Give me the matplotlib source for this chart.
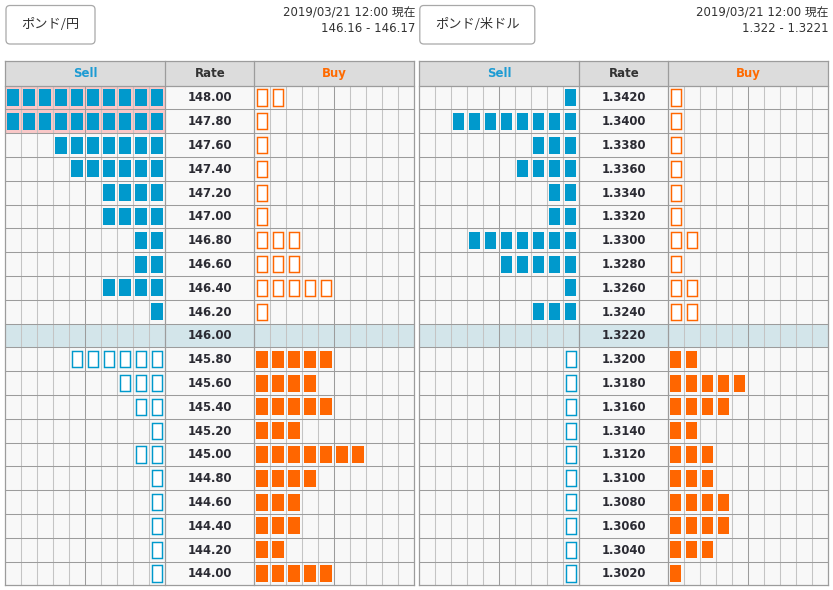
import matplotlib
matplotlib.use("Agg")
import matplotlib.pyplot as plt
from matplotlib.patches import Rectangle, FancyBboxPatch

plt.rcParams['font.family'] = ['DejaVu Sans', 'Noto Sans CJK JP']

# ---- data ----
TIMESTAMP = "2019/03/21 12:00 現在"

GBPJPY_NAME = "ポンド/円"
GBPJPY_QUOTE = "146.16 - 146.17"
GBPJPY_CURRENT = "146.00"
GBPJPY_RATES = ["148.00", "147.80", "147.60", "147.40", "147.20", "147.00", "146.80",
                "146.60", "146.40", "146.20", "146.00", "145.80", "145.60", "145.40",
                "145.20", "145.00", "144.80", "144.60", "144.40", "144.20", "144.00"]
GBPJPY_SELL = [10, 10, 7, 6, 4, 4, 2, 2, 4, 1, 0, 6, 3, 2, 1, 2, 1, 1, 1, 1, 1]
GBPJPY_BUY = [2, 1, 1, 1, 1, 1, 3, 3, 5, 1, 0, 5, 4, 5, 3, 7, 4, 3, 3, 2, 5]

GBPUSD_NAME = "ポンド/米ドル"
GBPUSD_QUOTE = "1.322 - 1.3221"
GBPUSD_CURRENT = "1.3220"
GBPUSD_RATES = ["1.3420", "1.3400", "1.3380", "1.3360", "1.3340", "1.3320", "1.3300",
                "1.3280", "1.3260", "1.3240", "1.3220", "1.3200", "1.3180", "1.3160",
                "1.3140", "1.3120", "1.3100", "1.3080", "1.3060", "1.3040", "1.3020"]
GBPUSD_SELL = [1, 8, 3, 4, 2, 2, 7, 5, 1, 3, 0, 1, 1, 1, 1, 1, 1, 1, 1, 1, 1]
GBPUSD_BUY = [1, 1, 1, 1, 1, 1, 2, 1, 2, 2, 0, 2, 5, 4, 2, 3, 3, 4, 4, 3, 1]

# ---- style ----
BLUE = "#0099cc"
ORANGE = "#ff6600"
SELL_TXT = "#1d9bd3"
BUY_TXT = "#ff6a00"
HEAD_BG = "#dcdcdc"
CELL_BG = "#f8f8f8"
CUR_BG = "#d3e5ea"
PINK = "#f9c8c8"
MINOR = "#c4c4c4"
MAJOR = "#9c9c9c"

NCELL = 10
CW = 16.0        # cell width px
RATE_W = 89.0    # rate column width px
TOP = 61.0       # header top
HEAD_H = 24.5
ROW_H = 23.8


def draw_panel(ax, x0, name, btn_w, quote, rates, sell, buy, current):
    n = len(rates)
    cur = rates.index(current)
    rate_x = x0 + NCELL * CW
    buy_x = rate_x + RATE_W
    right = buy_x + NCELL * CW
    y0 = TOP + HEAD_H
    bottom = y0 + n * ROW_H

    # button + timestamp
    ax.add_patch(FancyBboxPatch((x0 + 0.5, 5.5), btn_w, 38.5,
                                boxstyle="round,pad=0,rounding_size=4",
                                fc="white", ec="#a8a8a8", lw=0.9, zorder=3))
    ax.text(x0 + 0.5 + btn_w / 2, 25, name, ha="center", va="center",
            fontsize=9.5, color="#333333",
            family=['Noto Sans CJK JP', 'DejaVu Sans'], zorder=4)
    ax.text(right + 0.5, 13, TIMESTAMP, ha="right", va="center", fontsize=8.5, color="#333333")
    ax.text(right + 0.5, 28.5, quote, ha="right", va="center", fontsize=8.5, color="#333333")

    # header
    ax.add_patch(Rectangle((x0, TOP), right - x0, HEAD_H, fc=HEAD_BG, ec="none", zorder=0))
    hy = TOP + HEAD_H / 2
    ax.text(x0 + NCELL * CW / 2, hy, "Sell", ha="center", va="center",
            fontsize=8.5, fontweight="bold", color=SELL_TXT)
    ax.text(rate_x + RATE_W / 2, hy, "Rate", ha="center", va="center",
            fontsize=8.5, fontweight="bold", color="#333333")
    ax.text(buy_x + NCELL * CW / 2, hy, "Buy", ha="center", va="center",
            fontsize=8.5, fontweight="bold", color=BUY_TXT)

    for i in range(n):
        ry = y0 + i * ROW_H
        bg = CUR_BG if i == cur else CELL_BG
        ax.add_patch(Rectangle((x0, ry), right - x0, ROW_H, fc=bg, ec="none", zorder=0))
        if sell[i] >= NCELL:
            ax.add_patch(Rectangle((x0, ry), NCELL * CW, ROW_H, fc=PINK, ec="none", zorder=0.5))
        ax.text(rate_x + RATE_W / 2, ry + ROW_H / 2 + 0.5, rates[i], ha="center", va="center",
                fontsize=8.4, fontweight="bold", color="#2b2b33", zorder=3)

        # sell boxes fill from the right edge of the sell column
        for k in range(sell[i]):
            cx = x0 + (NCELL - 1 - k) * CW
            if i < cur:
                ax.add_patch(Rectangle((cx + 2, ry + 3.4), 11.2, 17, fc=BLUE, ec="none", zorder=2))
            else:
                ax.add_patch(Rectangle((cx + 2.4, ry + 3.8), 10.4, 16.2, fc="white",
                                       ec=BLUE, lw=1.05, zorder=2))
        # buy boxes fill from the left edge of the buy column
        for k in range(buy[i]):
            cx = buy_x + k * CW
            if i < cur:
                ax.add_patch(Rectangle((cx + 2.4, ry + 3.8), 10.4, 16.2, fc="white",
                                       ec=ORANGE, lw=1.05, zorder=2))
            else:
                ax.add_patch(Rectangle((cx + 2, ry + 3.4), 11.2, 17, fc=ORANGE, ec="none", zorder=2))

    # grid lines
    for j in range(1, NCELL):
        col = MAJOR if j == 5 else MINOR
        for bx in (x0, buy_x):
            ax.plot([bx + j * CW] * 2, [y0, bottom], color=col, lw=0.75, zorder=1)
    for i in range(1, n):
        yy = y0 + i * ROW_H
        ax.plot([x0, right], [yy, yy], color=MAJOR, lw=0.75, zorder=1)
    for xx in (x0, rate_x, buy_x, right):
        ax.plot([xx, xx], [TOP, bottom], color=MAJOR, lw=0.9, zorder=1)
    for yy in (TOP, y0, bottom):
        ax.plot([x0, right], [yy, yy], color=MAJOR, lw=0.9, zorder=1)


fig = plt.figure(figsize=(8.33, 5.9), dpi=100)
fig.patch.set_facecolor("white")
ax = fig.add_axes([0, 0, 1, 1])
ax.set_xlim(0, 833)
ax.set_ylim(590, 0)
ax.axis("off")

draw_panel(ax, 5.5, GBPJPY_NAME, 89, GBPJPY_QUOTE, GBPJPY_RATES, GBPJPY_SELL, GBPJPY_BUY, GBPJPY_CURRENT)
draw_panel(ax, 419.3, GBPUSD_NAME, 115, GBPUSD_QUOTE, GBPUSD_RATES, GBPUSD_SELL, GBPUSD_BUY, GBPUSD_CURRENT)

fig.savefig("out.png", dpi=100, facecolor="white")
